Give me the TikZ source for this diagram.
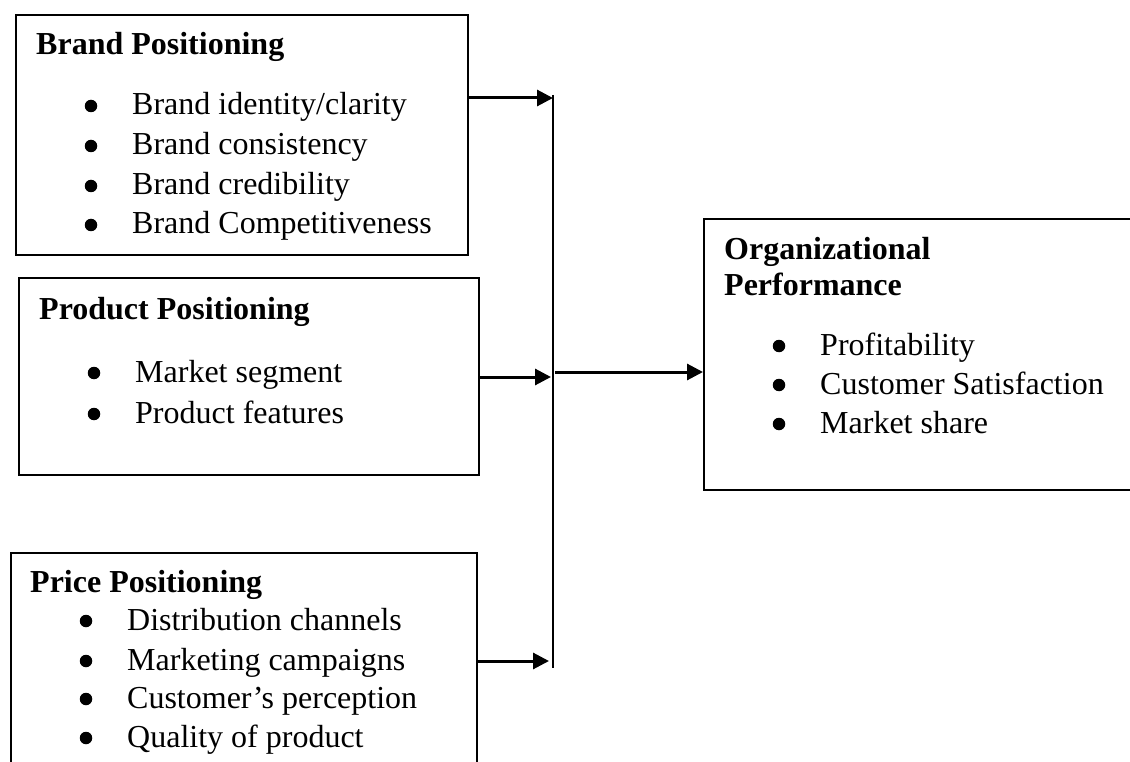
\documentclass[tikz,border=0pt]{standalone}
\usepackage{fontspec}
\setmainfont{Liberation Serif}
\usetikzlibrary{arrows.meta}
\tikzset{
  boxnode/.style={draw, line width=2.2pt, inner sep=0pt, anchor=north west},
  headtext/.style={anchor=base west, inner sep=0pt, font=\fontsize{32}{36}\selectfont\bfseries},
  itemtext/.style={anchor=base west, inner sep=0pt, font=\fontsize{32}{40}\selectfont},
  bulletmark/.style={circle, fill=black, draw=none, inner sep=0pt, minimum size=12.5pt},
  arr/.style={line width=3pt, -{Triangle[length=16pt,width=16pt]}},
  barline/.style={line width=2.2pt}
}
\begin{document}
\begin{tikzpicture}[x=1pt,y=-1pt]
\clip (0,0) rectangle (1130,762);
\fill[white] (0,0) rectangle (1130,762);

% boxes
\node[boxnode, minimum width=452pt, minimum height=240pt] (brand) at (15,14) {};
\node[boxnode, minimum width=460pt, minimum height=197pt] (prod) at (18,277) {};
\node[boxnode, minimum width=466pt, minimum height=260pt] (price) at (10,552) {};
\node[boxnode, minimum width=470pt, minimum height=271pt] (org) at (703,218) {};

% Brand positioning
\node[headtext] (bh) at (36,55) {Brand Positioning};
\node[bulletmark] (bb1) at (91,106) {};
\node[itemtext] (bi1) at (132,115) {Brand identity/clarity};
\node[bulletmark] (bb2) at (91,146) {};
\node[itemtext] (bi2) at (132,155) {Brand consistency};
\node[bulletmark] (bb3) at (91,186) {};
\node[itemtext] (bi3) at (132,195) {Brand credibility};
\node[bulletmark] (bb4) at (91,225) {};
\node[itemtext] (bi4) at (132,234) {Brand Competitiveness};

% Product positioning
\node[headtext] (ph) at (39,319) {Product Positioning};
\node[bulletmark] (pb1) at (94,373) {};
\node[itemtext] (pi1) at (135,382) {Market segment};
\node[bulletmark] (pb2) at (94,414) {};
\node[itemtext] (pi2) at (135,423) {Product features};

% Price positioning
\node[headtext] (rh) at (30,592) {Price Positioning};
\node[bulletmark] (rb1) at (86,621) {};
\node[itemtext] (ri1) at (127,630) {Distribution channels};
\node[bulletmark] (rb2) at (86,661) {};
\node[itemtext] (ri2) at (127,670) {Marketing campaigns};
\node[bulletmark] (rb3) at (86,699) {};
\node[itemtext] (ri3) at (127,708) {Customer’s perception};
\node[bulletmark] (rb4) at (86,738) {};
\node[itemtext] (ri4) at (127,747) {Quality of product};

% Organizational performance
\node[headtext] (oh1) at (724,259) {Organizational};
\node[headtext] (oh2) at (724,295) {Performance};
\node[bulletmark] (ob1) at (779,346) {};
\node[itemtext] (oi1) at (820,355) {Profitability};
\node[bulletmark] (ob2) at (779,385) {};
\node[itemtext] (oi2) at (820,394) {Customer Satisfaction};
\node[bulletmark] (ob3) at (779,424) {};
\node[itemtext] (oi3) at (820,433) {Market share};

% connectors
\coordinate (bartop) at (553,95);
\coordinate (barbot) at (553,668);
\draw[barline] (bartop) -- (barbot);

\coordinate (t1) at (553,98);
\coordinate (t2) at (551,377);
\coordinate (t3) at (549,661);
\coordinate (o1) at (555,372);

\draw[arr] (brand.east |- t1) -- (t1);
\draw[arr] (prod.east |- t2) -- (t2);
\draw[arr] (price.east |- t3) -- (t3);
\draw[arr] (o1) -- (org.west |- o1);
\end{tikzpicture}
\end{document}
